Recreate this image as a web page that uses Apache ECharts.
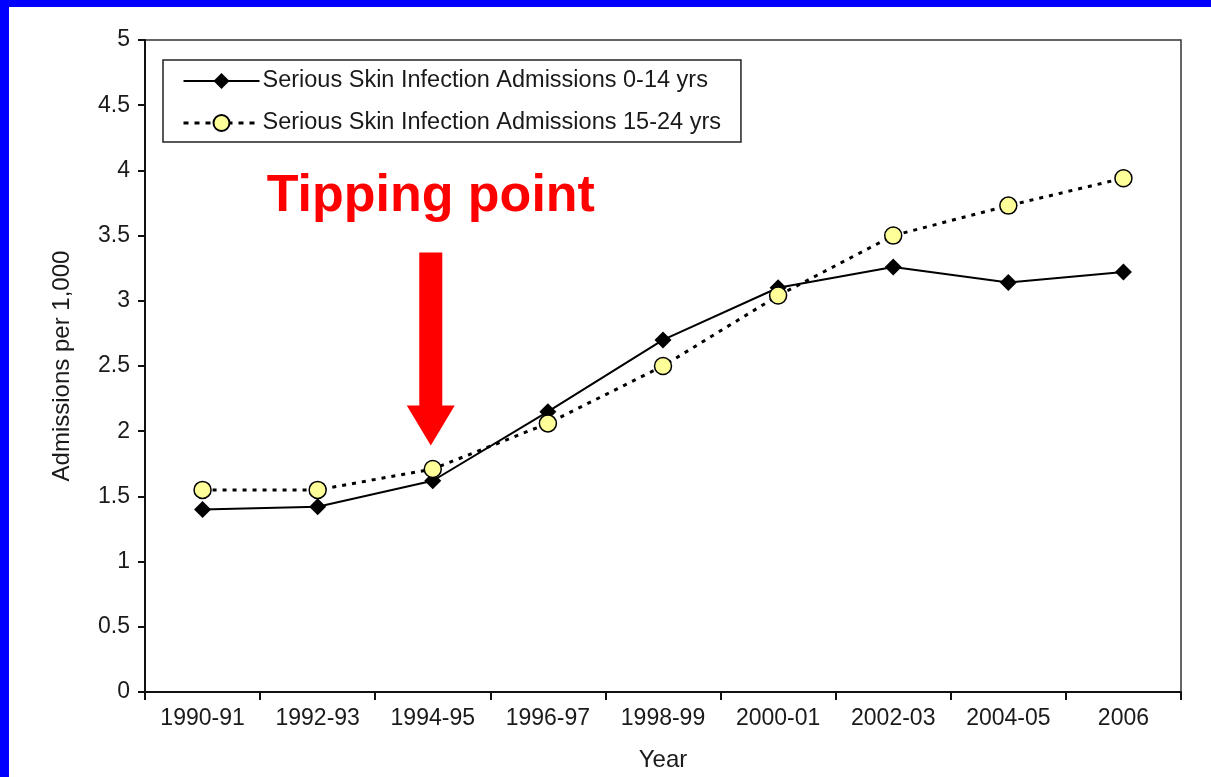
<!DOCTYPE html>
<html><head><meta charset="utf-8">
<script src="https://cdn.jsdelivr.net/npm/echarts@6/dist/echarts.min.js"></script>
<style>html,body{margin:0;padding:0;background:#fff}#c{width:1211px;height:777px}</style>
</head><body><div id="c"></div>
<script>
const categories = ['1990-91','1992-93','1994-95','1996-97','1998-99','2000-01','2002-03','2004-05','2006'];
const young = [1.40, 1.42, 1.62, 2.15, 2.70, 3.10, 3.26, 3.14, 3.22];
const older = [1.55, 1.55, 1.71, 2.06, 2.50, 3.04, 3.50, 3.73, 3.94];
const seriesNames = ['Serious Skin Infection Admissions 0-14 yrs','Serious Skin Infection Admissions 15-24 yrs'];
const annotation = {text:'Tipping point', category:'1994-95', textValue:3.8, arrowTop:3.37, arrowTip:1.89};

const font = '"Liberation Sans", Arial, sans-serif';
const txtColor = '#1a1a1a';
const chart = echarts.init(document.getElementById('c'));
chart.setOption({
  backgroundColor:'#fff',
  animation:false,
  grid:{left:145,right:30,top:40,bottom:85,show:true,borderColor:'#333',borderWidth:1.5,backgroundColor:'transparent'},
  legend:{
    left:163, top:60, orient:'vertical', itemGap:18, padding:[9,20,7,19],
    borderColor:'#222', borderWidth:1.5, itemWidth:76, itemHeight:20,
    textStyle:{fontFamily:font,fontSize:23.5,color:txtColor,padding:[0,0,0,-2]},
    data:[
      {name:seriesNames[0]},
      {name:seriesNames[1], lineStyle:{type:[5,6],width:3,color:'#000'}}
    ]
  },
  xAxis:{
    type:'category', data:categories, boundaryGap:true,
    name:'Year', nameLocation:'middle', nameGap:56,
    nameTextStyle:{fontFamily:font,fontSize:24,color:txtColor},
    axisLine:{lineStyle:{color:'#111',width:2}},
    axisTick:{show:true,length:8,alignWithLabel:false,lineStyle:{color:'#111',width:2}},
    axisLabel:{fontFamily:font,fontSize:23,color:txtColor,margin:15,interval:0},
    splitLine:{show:false}
  },
  yAxis:{
    type:'value', min:0, max:5, interval:0.5,
    name:'Admissions per 1,000', nameLocation:'middle', nameGap:71, nameRotate:90,
    nameTextStyle:{fontFamily:font,fontSize:24,color:txtColor},
    axisLine:{show:true,lineStyle:{color:'#111',width:2}},
    axisTick:{show:true,length:7,lineStyle:{color:'#111',width:2}},
    axisLabel:{fontFamily:font,fontSize:23,color:txtColor,margin:15},
    splitLine:{show:false}
  },
  series:[
    {name:seriesNames[0], type:'line', data:young, symbol:'diamond', symbolSize:[17,17],
     lineStyle:{color:'#000',width:2}, itemStyle:{color:'#000'}, z:2},
    {name:seriesNames[1], type:'line', data:older, symbol:'circle', symbolSize:17,
     lineStyle:{color:'#000',width:3,type:[4,6]}, itemStyle:{color:'#ffff99',borderColor:'#000',borderWidth:1.5}, z:3}
  ]
});

function drawGraphics(){
  const tip = chart.convertToPixel({gridIndex:0},[annotation.category, annotation.arrowTip]);
  const top = chart.convertToPixel({gridIndex:0},[annotation.category, annotation.arrowTop]);
  const txt = chart.convertToPixel({gridIndex:0},[annotation.category, annotation.textValue]);
  const x = tip[0] - 2;
  const headH = 40, headW = 24, shaftW = 11.5;
  chart.setOption({graphic:[
    {type:'rect', shape:{x:0,y:0,width:1211,height:7}, style:{fill:'#0000ff'}, z:100},
    {type:'rect', shape:{x:0,y:0,width:9,height:777}, style:{fill:'#0000ff'}, z:100},
    {type:'text', x:x, y:txt[1], style:{text:annotation.text, fill:'#ff0000', font:'bold 52px '+font, align:'center', verticalAlign:'middle'}, z:50},
    {type:'polygon', shape:{points:[
      [x-shaftW, top[1]],[x+shaftW, top[1]],[x+shaftW, tip[1]-headH],[x+headW, tip[1]-headH],
      [x, tip[1]],[x-headW, tip[1]-headH],[x-shaftW, tip[1]-headH]
    ]}, style:{fill:'#ff0000'}, z:50}
  ]});
}
drawGraphics();
</script></body></html>
